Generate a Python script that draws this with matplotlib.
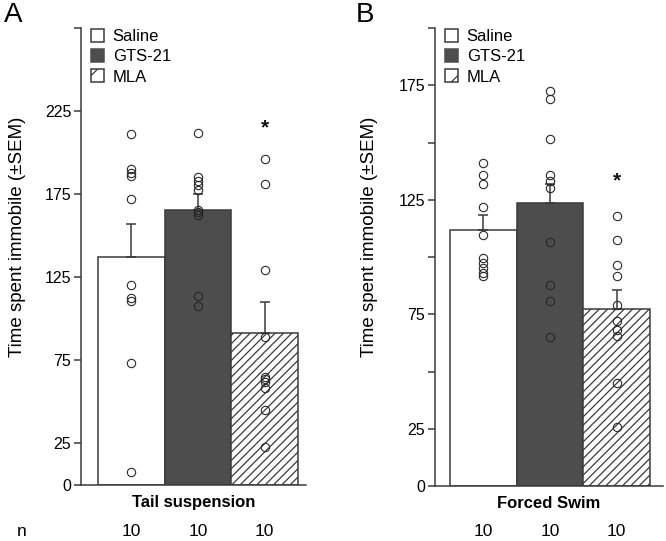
import matplotlib
matplotlib.use("Agg")
import matplotlib.pyplot as plt
from matplotlib.patches import Patch
from matplotlib.transforms import blended_transform_factory
import numpy as np

plt.rcParams['font.family'] = ['Liberation Sans', 'DejaVu Sans']
plt.rcParams['hatch.linewidth'] = 0.9

groups = ["Saline", "GTS-21", "MLA"]
n_labels = ["10", "10", "10"]

# Panel A: Tail suspension
a_means = [137, 165.6, 91.7]
a_sem = [20, 9.5, 18.3]
a_saline_pts = [211, 190, 188, 186, 172, 120.5, 112.5, 110.5, 73.3, 7.6]
a_gts_pts = [212, 185.4, 182.7, 180.3, 177.7, 165.7, 162.7, 113.9, 107.8, 164]
a_mla_pts = [196, 181, 129.5, 89.3, 65.2, 62.2, 58.2, 45.2, 22.7, 64]
a_star = 215

# Panel B: Forced Swim
b_means = [112, 123.7, 77.3]
b_sem = [6.5, 8, 8.4]
b_saline_pts = [141.2, 136, 131.7, 121.7, 109.8, 99.6, 97.4, 95.2, 93, 91.9]
b_gts_pts = [172.5, 168.9, 151.7, 136, 133, 130, 106.4, 87.9, 81, 64.9]
b_mla_pts = [117.8, 107.6, 96.7, 91.5, 79.2, 71.9, 68.2, 65.3, 44.9, 25.9]
b_star = 133.4

a_ticks = [0, 25, 75, 125, 175, 225, 275]
a_ticklabels = ["0", "25", "75", "125", "175", "225", ""]
b_ticks = [0, 25, 50, 75, 100, 125, 150, 175, 200]
b_ticklabels = ["0", "25", "", "75", "", "125", "", "175", ""]

W, H = 666, 541
fig = plt.figure(figsize=(W / 100, H / 100), dpi=100)

dark = '#3a3a3a'
gray = '#4d4d4d'

def px_axes(l, r, t, b):
    return fig.add_axes([l / W, 1 - b / H, (r - l) / W, (b - t) / H])

def draw_panel(ax, means, sems, pts_list, star, ylim, ticks, ticklabels, xlim, xlabel):
    x = np.arange(3)
    faces = ['white', gray, 'white']
    hatches = [None, None, '////']
    for i in range(3):
        ax.bar(x[i], means[i], width=1.0, color=faces[i], edgecolor=dark,
               linewidth=1.1, hatch=hatches[i], zorder=2)
        ax.errorbar(x[i], means[i], yerr=[[0], [sems[i]]], color=dark,
                    elinewidth=1.1, capsize=3.5, capthick=1.1, zorder=3, fmt='none')
    for i, pts in enumerate(pts_list):
        ec = '#2a2a2a' if i != 1 else '#262626'
        ax.plot([x[i]] * len(pts), pts, linestyle='none', marker='o', markersize=6.0,
                markerfacecolor='none', markeredgecolor=ec, markeredgewidth=0.8, zorder=4)
    ax.text(2, star, '*', ha='center', va='center', fontsize=15, fontweight='bold', color='#111')
    ax.set_ylim(*ylim)
    ax.set_xlim(*xlim)
    ax.set_yticks(ticks)
    ax.set_yticklabels(ticklabels, fontsize=11.5)
    ax.set_xticks([])
    for s in ['top', 'right']:
        ax.spines[s].set_visible(False)
    for s in ['left', 'bottom']:
        ax.spines[s].set_color(dark)
        ax.spines[s].set_linewidth(1.1)
    ax.tick_params(axis='y', direction='out', length=5, width=1.1, color=dark, pad=2)
    ax.set_xlabel(xlabel, fontsize=12, fontweight='bold', labelpad=7)
    tr = blended_transform_factory(ax.transData, fig.transFigure)
    for i in range(3):
        ax.text(x[i], 1 - 532 / H, n_labels[i], transform=tr, ha='center', va='center', fontsize=12.5)

axA = px_axes(81, 306, 28, 485)
draw_panel(axA, a_means, a_sem, [a_saline_pts, a_gts_pts, a_mla_pts], a_star,
           (0, 275), a_ticks, a_ticklabels, (-0.755, 2.62), 'Tail suspension')
axB = px_axes(435, 663, 28, 486)
draw_panel(axB, b_means, b_sem, [b_saline_pts, b_gts_pts, b_mla_pts], b_star,
           (0, 200), b_ticks, b_ticklabels, (-0.725, 2.695), 'Forced Swim')

fig.text(22 / W, 1 - 532 / H, 'n', ha='center', va='center', fontsize=12.5)
fig.text(13 / W, 1 - 15 / H, 'A', ha='center', va='center', fontsize=20)
fig.text(365 / W, 1 - 15 / H, 'B', ha='center', va='center', fontsize=20)
fig.text(18 / W, 1 - 237 / H, 'Time spent immobile (\u00b1SEM)', rotation=90,
         ha='center', va='center', fontsize=13.5)
fig.text(369 / W, 1 - 237 / H, 'Time spent immobile (\u00b1SEM)', rotation=90,
         ha='center', va='center', fontsize=13.5)

handles = [Patch(facecolor='white', edgecolor=dark, linewidth=1.1),
           Patch(facecolor=gray, edgecolor=gray, linewidth=1.1),
           Patch(facecolor='white', edgecolor=dark, linewidth=1.1, hatch='/')]
for lx in (91, 445):
    fig.legend(handles, groups, loc='upper left', bbox_to_anchor=(lx / W, 1 - 29 / H),
               frameon=False, fontsize=12, handlelength=0.8, handleheight=0.8,
               handletextpad=0.5, labelspacing=0.3, borderpad=0, borderaxespad=0)

fig.savefig('out.png', dpi=100)
